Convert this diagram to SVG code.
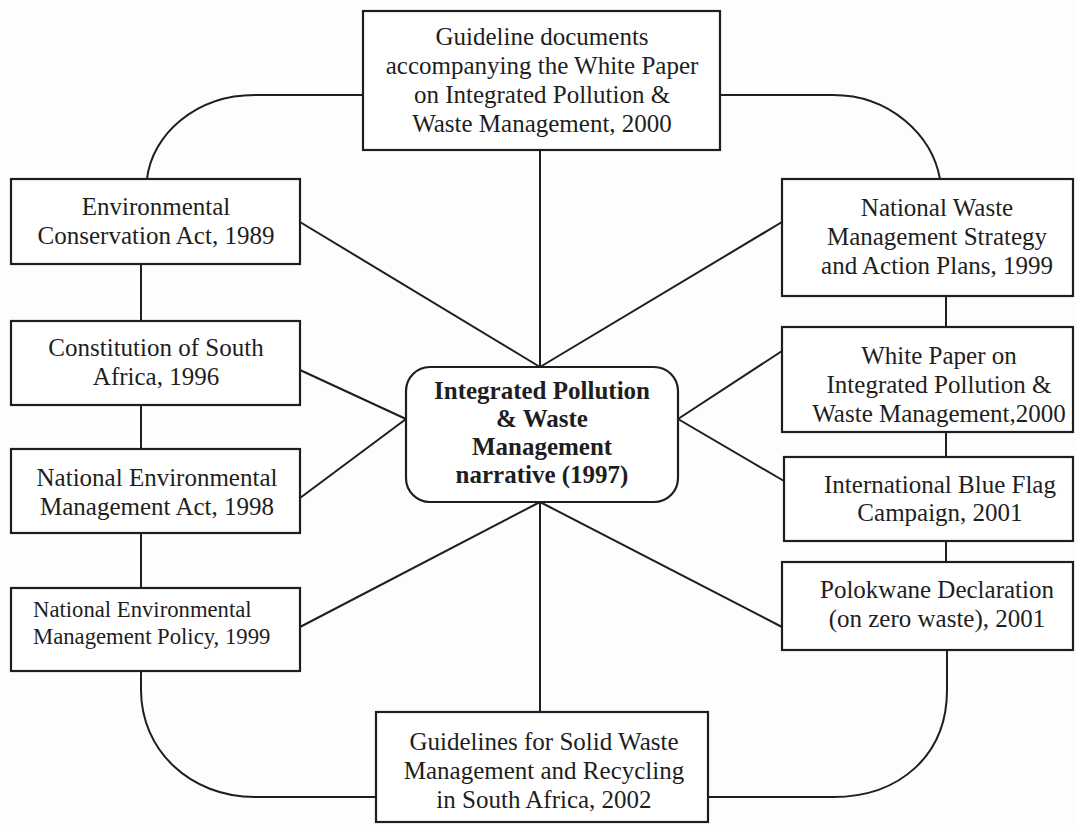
<svg xmlns="http://www.w3.org/2000/svg" width="1077" height="825" viewBox="0 0 1077 825">
<style>
.box{fill:#fff;stroke:#1e1e1e;stroke-width:2.2}
.t{font-family:"Liberation Serif","Times New Roman",serif;font-size:25px;fill:#1e1e1e;text-anchor:middle}
.s{font-size:22.7px;text-anchor:start}
.b{font-weight:bold}
.c{fill:none;stroke:#1e1e1e;stroke-width:2}
</style>
<rect width="1077" height="825" fill="#fdfdfd"/>
<g id="connectors" class="c">
<path d="M540,150 V367"/>
<path d="M540,502 V712"/>
<path d="M300,222 L540,367"/>
<path d="M782,222 L540,367"/>
<path d="M300,370 L406,419"/>
<path d="M300,498 L406,419"/>
<path d="M782,351 L678,419"/>
<path d="M784,481 L678,419"/>
<path d="M300,627 L540,502"/>
<path d="M782,627 L540,502"/>
<path d="M141,264 V321 M141,405 V449 M141,533 V588"/>
<path d="M946,296 V327 M946,432 V457 M946,541 V562"/>
<path d="M363,95 H255 C195,95 152,135 147,179"/>
<path d="M720,95 H833 C890,95 932,135 940,179"/>
<path d="M141,671 V690 C141,750 190,797 255,797 H376"/>
<path d="M947,650 V690 C947,755 900,797 833,797 H708"/>
</g>
<g id="guideline-docs">
<rect class="box" x="363" y="11" width="357" height="139"/>
<text class="t" x="542" y="45">Guideline documents</text>
<text class="t" x="542" y="74">accompanying the White Paper</text>
<text class="t" x="542" y="103">on Integrated Pollution &amp;</text>
<text class="t" x="542" y="132">Waste Management, 2000</text>
</g>
<g id="env-conservation-act">
<rect class="box" x="11" y="179" width="289" height="85"/>
<text class="t" x="156" y="215">Environmental</text>
<text class="t" x="156" y="244">Conservation Act, 1989</text>
</g>
<g id="constitution">
<rect class="box" x="11" y="321" width="289" height="84"/>
<text class="t" x="156" y="356">Constitution of South</text>
<text class="t" x="156" y="385">Africa, 1996</text>
</g>
<g id="nema">
<rect class="box" x="11" y="449" width="289" height="84"/>
<text class="t" x="157" y="486">National Environmental</text>
<text class="t" x="157" y="515">Management Act, 1998</text>
</g>
<g id="nemp">
<rect class="box" x="11" y="588" width="289" height="83"/>
<text class="t s" x="33" y="617">National Environmental</text>
<text class="t s" x="33" y="644">Management Policy, 1999</text>
</g>
<g id="center">
<rect class="box" x="406" y="367" width="272" height="135" rx="24" ry="24"/>
<text class="t b" x="542" y="399">Integrated Pollution</text>
<text class="t b" x="542" y="427">&amp; Waste</text>
<text class="t b" x="542" y="455">Management</text>
<text class="t b" x="542" y="483">narrative (1997)</text>
</g>
<g id="nwms">
<rect class="box" x="782" y="179" width="291" height="117"/>
<text class="t" x="937" y="216">National Waste</text>
<text class="t" x="937" y="245">Management Strategy</text>
<text class="t" x="937" y="274">and Action Plans, 1999</text>
</g>
<g id="white-paper">
<rect class="box" x="782" y="327" width="291" height="105"/>
<text class="t" x="939" y="364">White Paper on</text>
<text class="t" x="939" y="393">Integrated Pollution &amp;</text>
<text class="t" x="939" y="422">Waste Management,2000</text>
</g>
<g id="blue-flag">
<rect class="box" x="784" y="457" width="289" height="84"/>
<text class="t" x="940" y="493">International Blue Flag</text>
<text class="t" x="940" y="521">Campaign, 2001</text>
</g>
<g id="polokwane">
<rect class="box" x="782" y="562" width="291" height="88"/>
<text class="t" x="937" y="598">Polokwane Declaration</text>
<text class="t" x="937" y="627">(on zero waste), 2001</text>
</g>
<g id="solid-waste-guidelines">
<rect class="box" x="376" y="712" width="332" height="110"/>
<text class="t" x="544" y="750">Guidelines for Solid Waste</text>
<text class="t" x="544" y="779">Management and Recycling</text>
<text class="t" x="544" y="808">in South Africa, 2002</text>
</g>
</svg>
